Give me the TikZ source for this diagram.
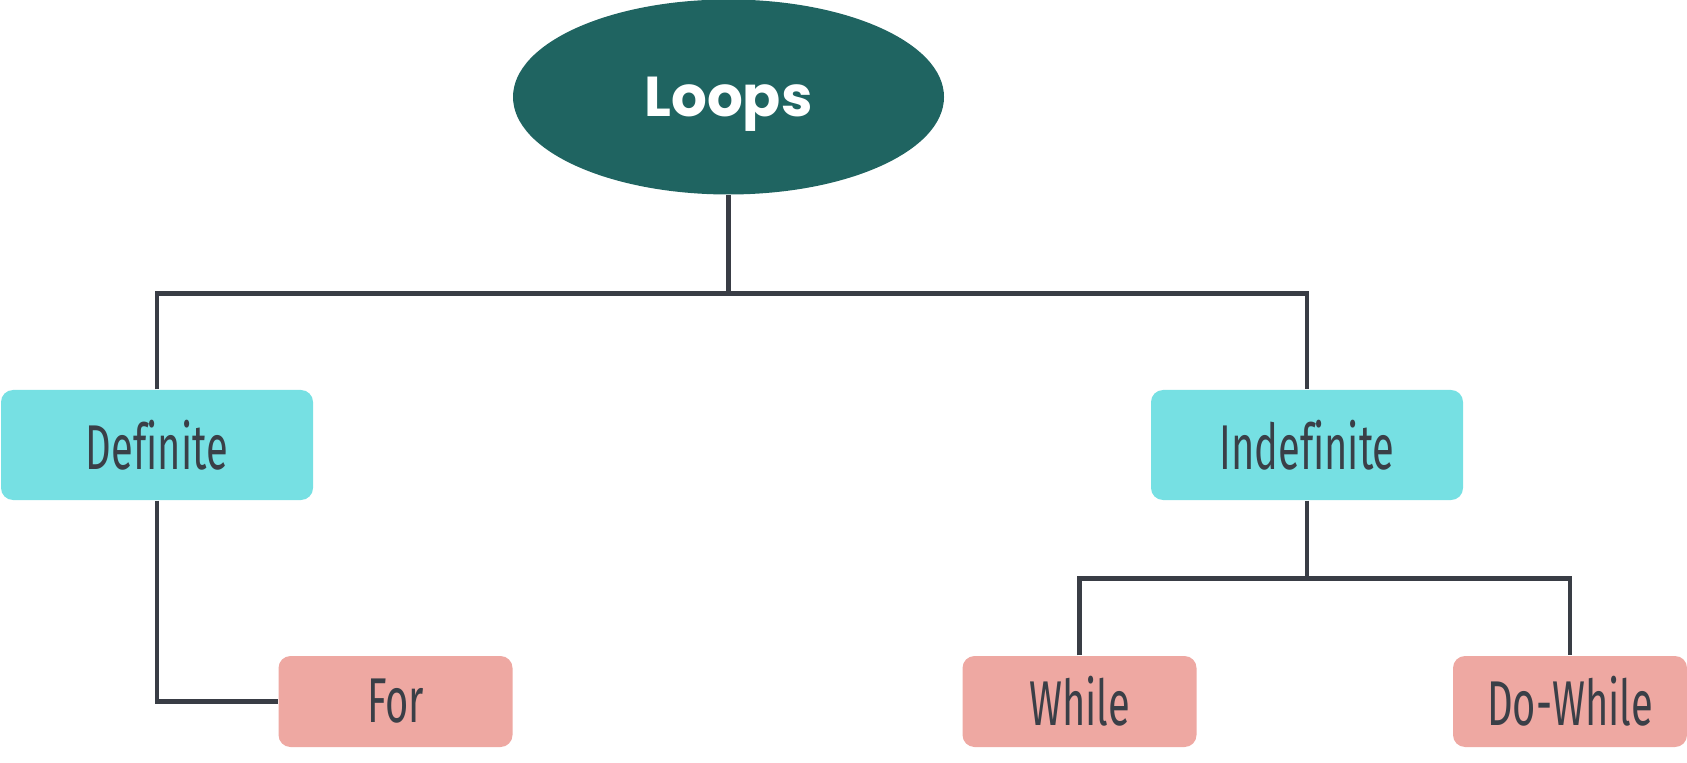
\documentclass[tikz,border=0pt]{standalone}
\usepackage{fontspec}
\usepackage{tikz}
\usetikzlibrary{positioning, shapes.geometric, calc}
\newfontfamily\loopsfont{Poppins}
\newfontfamily\labelfont[FakeStretch=0.63, Ligatures=NoCommon]{Fira Sans}
\definecolor{lpteal}{HTML}{1F6461}
\definecolor{lpcyan}{HTML}{76E0E3}
\definecolor{lppink}{HTML}{EEA8A2}
\definecolor{lpline}{HTML}{393D45}
\definecolor{lptext}{HTML}{3A3F47}

\begin{document}
\begin{tikzpicture}[
  rootnode/.style={ellipse, fill=lpteal, minimum width=4.31cm, minimum height=1.95cm, inner sep=0pt, text depth=0pt, font=\loopsfont\bfseries\fontsize{16}{18}\selectfont, text=white},
  catbox/.style={rectangle, rounded corners=0.12cm, fill=lpcyan, minimum width=3.12cm, minimum height=1.10cm, inner sep=0pt, font=\labelfont\fontsize{18}{20}\selectfont, text=lptext},
  kindbox/.style={rectangle, rounded corners=0.12cm, fill=lppink, minimum width=2.34cm, minimum height=0.91cm, inner sep=0pt, font=\labelfont\fontsize{18}{20}\selectfont, text=lptext},
  link/.style={draw=lpline, line width=1.3pt},
]
\useasboundingbox (0,0) rectangle (16.87,7.62);

% Root
\node[rootnode] (loops) at (7.285, 6.65) {Loops};

% Categories
\node[catbox] (definite) at (1.57, 3.17) {Definite};
\node[catbox] (indefinite) at (13.07, 3.17) {Indefinite};

% Kinds
\node[kindbox] (for) at (3.955, 0.605) {For};
\node[kindbox] (while) at (10.795, 0.605) {While};
\node[kindbox] (dowhile) at (15.70, 0.605) {Do-While};

% Links
\draw[link] (loops.south) -- ++(0,-0.985) coordinate (hub);
\draw[link] (definite.north) |- (hub) -| (indefinite.north);
\draw[link] (definite.south) |- (for.west);
\draw[link] (indefinite.south) -- ++(0,-0.78) coordinate (subhub);
\draw[link] (while.north) |- (subhub) -| (dowhile.north);

\end{tikzpicture}
\end{document}
